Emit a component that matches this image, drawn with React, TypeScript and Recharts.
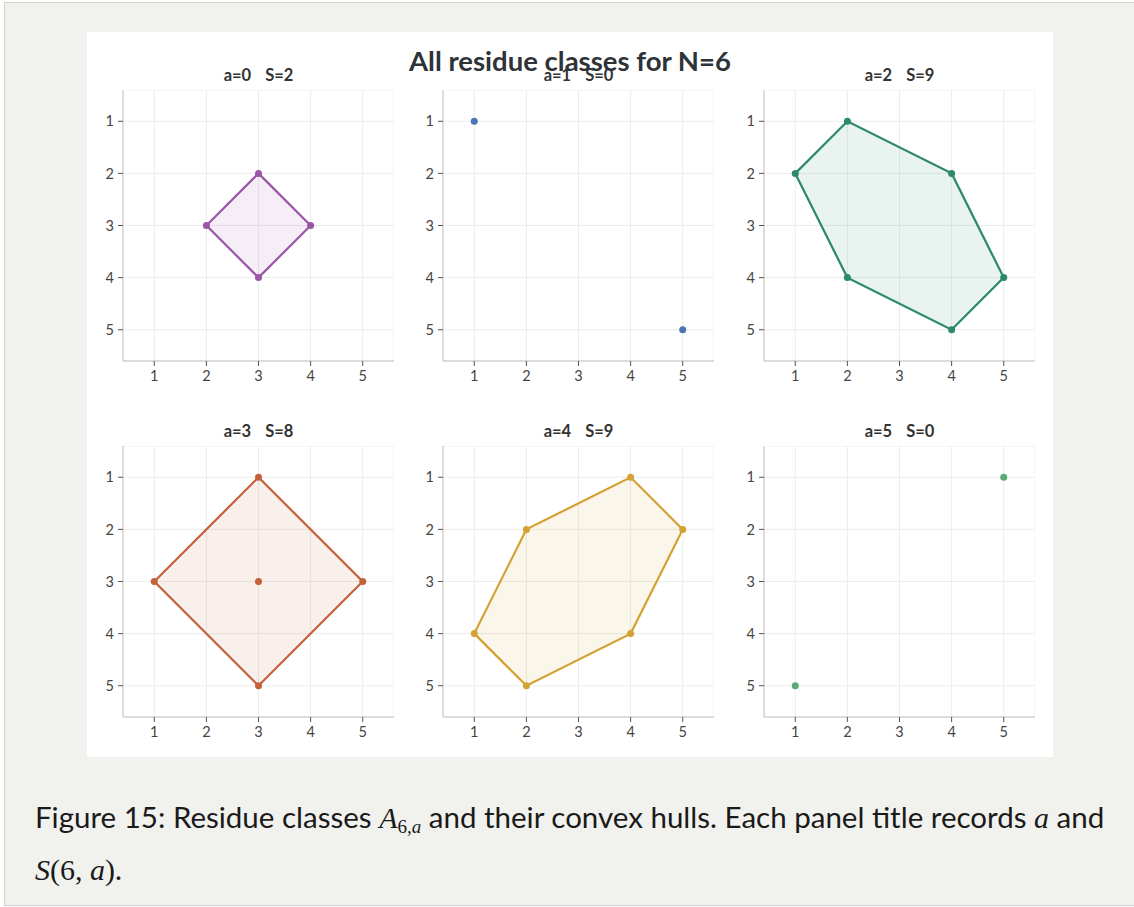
import React from 'react'
import {
  ScatterChart,
  Scatter,
  XAxis,
  YAxis,
  CartesianGrid,
} from 'recharts'

const N = 6
const TICKS = [1, 2, 3, 4, 5]
const RESIDUES = [0, 1, 2, 3, 4, 5]
const S_VALUES = [2, 0, 9, 8, 9, 0]
const COLORS = ['#9b55a8', '#4a76b4', '#2a8a6a', '#c4603a', '#d4a234', '#5aaa78']

// points (x, y)
const A0 = [[3, 2], [2, 3], [4, 3], [3, 4]]
const A1 = [[1, 1], [5, 5]]
const A2 = [[2, 1], [1, 2], [4, 2], [2, 4], [5, 4], [4, 5]]
const A3 = [[3, 1], [1, 3], [3, 3], [5, 3], [3, 5]]
const A4 = [[4, 1], [2, 2], [5, 2], [1, 4], [4, 4], [2, 5]]
const A5 = [[5, 1], [1, 5]]
const CLASSES = [A0, A1, A2, A3, A4, A5]

const PLOT_LEFT = [123, 443, 764]
const PLOT_TOP = [90, 446]
const PLOT_SIZE = 271
const Y_AXIS_W = 36
const X_AXIS_H = 32
const FONT = 'Lato, "Noto Sans", sans-serif'

type Pt = { x: number; y: number }

// monotone chain, returns closed ring
function hull(pts: Pt[]): Pt[] {
  if (pts.length < 3) return []
  const p = [...pts].sort((a, b) => a.x - b.x || a.y - b.y)
  const cross = (o: Pt, a: Pt, b: Pt) => (a.x - o.x) * (b.y - o.y) - (a.y - o.y) * (b.x - o.x)
  const lower: Pt[] = []
  for (const q of p) {
    while (lower.length >= 2 && cross(lower[lower.length - 2], lower[lower.length - 1], q) <= 0) lower.pop()
    lower.push(q)
  }
  const upper: Pt[] = []
  for (let i = p.length - 1; i >= 0; i--) {
    const q = p[i]
    while (upper.length >= 2 && cross(upper[upper.length - 2], upper[upper.length - 1], q) <= 0) upper.pop()
    upper.push(q)
  }
  upper.pop()
  lower.pop()
  const ring = lower.concat(upper)
  if (ring.length < 3) return []
  return [...ring, ring[0]]
}

const XTick = (p: any) => (
  <text x={p.x} y={p.y} dy="0.75em" textAnchor="middle" fill="#444" fontSize={14.5} fontFamily={FONT}>
    {p.payload.value}
  </text>
)

const YTick = (p: any) => (
  <text x={p.x} y={p.y} dy="0.36em" textAnchor="end" fill="#444" fontSize={14.5} fontFamily={FONT}>
    {p.payload.value}
  </text>
)

function Panel({ idx }: { idx: number }) {
  const col = idx % 3
  const row = Math.floor(idx / 3)
  const color = COLORS[idx]
  const pts: Pt[] = CLASSES[idx].map(([x, y]) => ({ x, y }))
  const ring = hull(pts)
  const left = PLOT_LEFT[col]
  const top = PLOT_TOP[row]
  return (
    <>
      <div
        style={{
          position: 'absolute',
          left,
          top: top - 25,
          width: PLOT_SIZE,
          textAlign: 'center',
          fontFamily: FONT,
          fontWeight: 700,
          fontSize: 16.5,
          lineHeight: '20px',
          color: '#333',
          whiteSpace: 'pre',
        }}
      >
        <span>{`a=${RESIDUES[idx]}`}</span>
        <span style={{ marginLeft: 14 }}>{`S=${S_VALUES[idx]}`}</span>
      </div>
      <div style={{ position: 'absolute', left: left - Y_AXIS_W, top }}>
        <ScatterChart
          width={PLOT_SIZE + Y_AXIS_W}
          height={PLOT_SIZE + X_AXIS_H}
          margin={{ top: 0, right: 0, bottom: 0, left: 0 }}
        >
          <CartesianGrid stroke="#ececec" />
          <XAxis
            type="number"
            dataKey="x"
            domain={[0.4, 5.6]}
            ticks={TICKS}
            allowDataOverflow
            height={X_AXIS_H}
            tick={XTick}
            tickSize={5}
            tickMargin={4}
            axisLine={{ stroke: '#c4c4c4' }}
            tickLine={{ stroke: '#555' }}
          />
          <YAxis
            type="number"
            dataKey="y"
            reversed
            domain={[0.4, 5.6]}
            ticks={TICKS}
            allowDataOverflow
            width={Y_AXIS_W}
            tick={YTick}
            tickSize={5}
            tickMargin={4}
            axisLine={{ stroke: '#c4c4c4' }}
            tickLine={{ stroke: '#555' }}
          />
          {ring.length > 0 && (
            <Scatter
              data={ring}
              fill={color}
              line={{ fill: color, fillOpacity: 0.1, strokeWidth: 2.2 }}
              lineType="joint"
              lineJointType="linear"
              shape={() => <g />}
              isAnimationActive={false}
            />
          )}
          <Scatter
            data={pts}
            fill={color}
            shape={(p: any) => <circle cx={p.cx} cy={p.cy} r={3.5} fill={color} />}
            isAnimationActive={false}
          />
        </ScatterChart>
      </div>
    </>
  )
}

const mathStyle: React.CSSProperties = {
  fontFamily: '"Liberation Serif", "DejaVu Serif", serif',
  fontStyle: 'italic',
  fontSize: 30,
}
const mathUpright: React.CSSProperties = {
  fontFamily: '"Liberation Serif", "DejaVu Serif", serif',
  fontSize: 30,
}

export default function App() {
  return (
    <div
      style={{
        position: 'absolute',
        left: 0,
        top: 0,
        width: 1134,
        height: 907,
        overflow: 'hidden',
        background: '#fff',
      }}
    >
      <div
        style={{
          position: 'absolute',
          left: 4,
          top: 2,
          width: 1140,
          height: 902,
          background: '#f1f1ee',
          border: '1px solid #d2d2ce',
        }}
      />
      <div
        style={{
          position: 'absolute',
          left: 87,
          top: 32,
          width: 966,
          height: 725,
          background: '#fff',
        }}
      />
      {RESIDUES.map((a, i) => (
        <Panel key={a} idx={i} />
      ))}
      <div
        style={{
          position: 'absolute',
          left: 87,
          top: 44,
          width: 966,
          textAlign: 'center',
          fontFamily: FONT,
          fontWeight: 700,
          fontSize: 27.5,
          lineHeight: '34px',
          color: '#2e3338',
        }}
      >
        {`All residue classes for N=${N}`}
      </div>
      <div
        style={{
          position: 'absolute',
          left: 35,
          top: 796,
          width: 1095,
          fontFamily: FONT,
          fontSize: 29.5,
          lineHeight: '42px',
          color: '#1a1a1a',
        }}
      >
        Figure 15: Residue classes{' '}
        <span style={mathStyle}>A</span>
        <sub style={{ fontSize: 19, fontFamily: '"Liberation Serif", serif', verticalAlign: '-5px' }}>
          6,<span style={{ fontStyle: 'italic' }}>a</span>
        </sub>{' '}
        and their convex hulls. Each panel title records <span style={mathStyle}>a</span> and
        <br />
        <span style={mathStyle}>S</span>
        <span style={mathUpright}>(6, </span>
        <span style={mathStyle}>a</span>
        <span style={mathUpright}>)</span>.
      </div>
    </div>
  )
}
